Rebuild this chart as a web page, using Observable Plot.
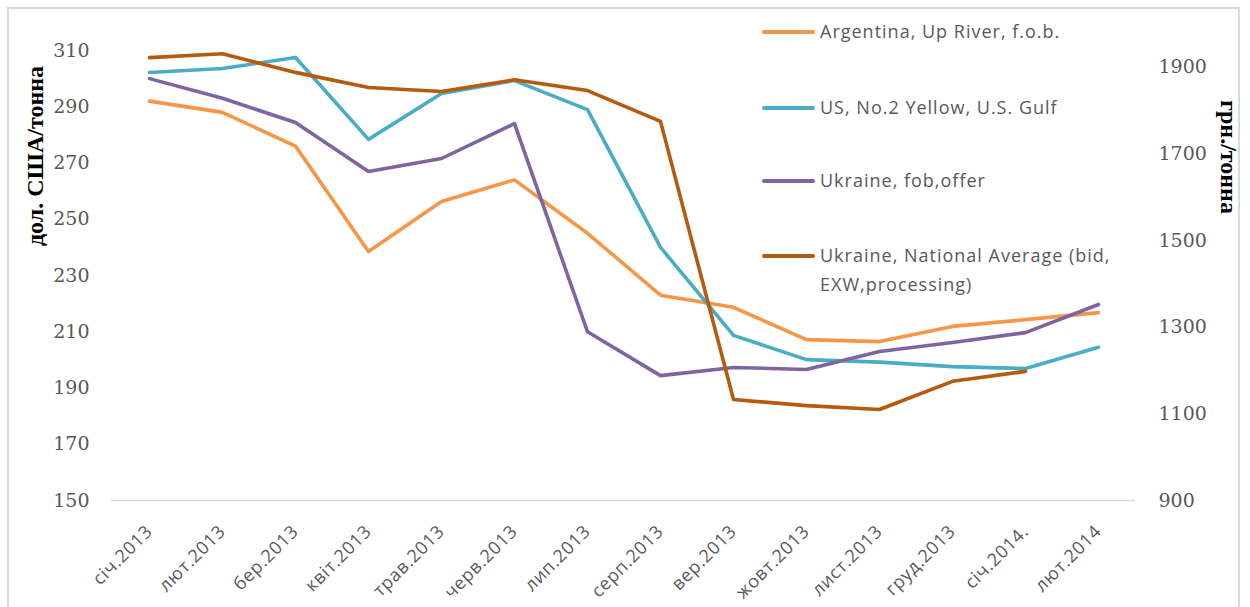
<!DOCTYPE html>
<html><head><meta charset="utf-8">
<script src="https://cdn.jsdelivr.net/npm/d3@7"></script>
<script src="https://cdn.jsdelivr.net/npm/@observablehq/plot@0.6"></script>
<style>
body{margin:0;background:#fff;}
#wrap{position:relative;width:1250px;height:607px;overflow:hidden;}
#border{position:absolute;left:7px;top:7px;width:1233px;height:620px;border:2px solid #dadada;box-sizing:border-box;}
.lg{position:absolute;font-family:"Open Sans",sans-serif;font-size:18px;letter-spacing:1px;color:#595959;line-height:29px;white-space:nowrap;}
.sw{position:absolute;width:53px;height:4px;border-radius:2px;}
.ttl{position:absolute;font-family:"Liberation Serif",serif;font-weight:bold;font-size:24px;color:#000;white-space:nowrap;}
svg g[aria-label="x-axis tick label"] text{letter-spacing:0.7px;}
</style></head>
<body><div id="wrap"><div id="border"></div></div>
<script>
const months = ["січ.2013","лют.2013","бер.2013","квіт.2013","трав.2013","черв.2013","лип.2013","серп.2013","вер.2013","жовт.2013","лист.2013","груд.2013","січ.2014.","лют.2014"];
const seriesNames = ["Argentina, Up River, f.o.b.","US, No.2 Yellow, U.S. Gulf","Ukraine, fob,offer","Ukraine, National Average (bid, EXW,processing)"];
const colors = ["#F79646","#4BACC6","#8064A2","#B65A10"];
const argentina = [292,288,276,238.5,256.3,264,245,223,218.7,207.2,206.5,211.9,214.3,216.8];
const usGulf    = [302.2,303.6,307.5,278.4,294.7,299.3,289,240,208.7,200.1,199.2,197.6,196.9,204.5];
const ukrFob    = [300,293,284.4,267,271.6,284,210,194.4,197.3,196.6,203,206.2,209.7,219.7];
const ukrNatAvg = [1922,1931,1888,1853,1844,1871,1846,1775,1133,1119,1110,1175,1198,null]; // грн./тонна (right axis)
const leftTicks = [150,170,190,210,230,250,270,290,310];
const rightTicks = [900,1100,1300,1500,1700,1900];
const leftDomain = [150,310];
const rightDomain = [900,1938.5];

const toLeft = v => leftDomain[0] + (v - rightDomain[0]) * (leftDomain[1]-leftDomain[0])/(rightDomain[1]-rightDomain[0]);
const fromLeft = l => rightDomain[0] + (l - leftDomain[0]) * (rightDomain[1]-rightDomain[0])/(leftDomain[1]-leftDomain[0]);

const leftSeries = [argentina, usGulf, ukrFob];
const data = [];
leftSeries.forEach((arr,si)=>arr.forEach((v,i)=>data.push({s:seriesNames[si], m:months[i], v})));
ukrNatAvg.forEach((v,i)=>{ if(v!=null) data.push({s:seriesNames[3], m:months[i], v:toLeft(v)}); });

const chart = Plot.plot({
  width:1250, height:607,
  marginLeft:111, marginRight:115, marginTop:50, marginBottom:107,
  x:{type:"point", domain:months, padding:0.5},
  y:{domain:leftDomain},
  color:{domain:seriesNames, range:colors},
  style:{fontFamily:"'Open Sans',sans-serif", background:"transparent", overflow:"visible"},
  marks:[
    Plot.ruleY([leftDomain[0]],{stroke:"#d9d9d9", strokeWidth:1.5}),
    Plot.axisY(leftTicks,{anchor:"left", tickSize:0, tickPadding:22, label:null, fontFamily:"DejaVu Serif", fontSize:19, fill:"#595959"}),
    Plot.axisY(rightTicks.map(toLeft),{anchor:"right", tickSize:0, tickPadding:23, label:null, tickFormat:d=>String(Math.round(fromLeft(d))), fontFamily:"DejaVu Serif", fontSize:19, fill:"#595959"}),
    Plot.axisX({anchor:"bottom", tickSize:0, tickPadding:28, tickRotate:-45, label:null, fontFamily:"'Open Sans',sans-serif", fontSize:18, fill:"#595959"}),
    Plot.line(data,{x:"m", y:"v", z:"s", stroke:"s", strokeWidth:3.6, strokeLinejoin:"round", strokeLinecap:"round"})
  ]
});
const wrap = document.getElementById("wrap");
chart.style.position="absolute"; chart.style.left="0"; chart.style.top="0";
wrap.appendChild(chart);

// legend
const legendY = [32,108,181,256];
seriesNames.forEach((n,i)=>{
  const sw=document.createElement("div"); sw.className="sw";
  sw.style.left="762px"; sw.style.top=(legendY[i]-2)+"px"; sw.style.background=colors[i];
  wrap.appendChild(sw);
  const t=document.createElement("div"); t.className="lg";
  t.style.left="820px"; t.style.top=(legendY[i]-15)+"px";
  t.textContent=n;
  if(i===3){ t.innerHTML="Ukraine, National Average (bid,<br>EXW,processing)"; }
  wrap.appendChild(t);
});
// axis titles
const lt=document.createElement("div"); lt.className="ttl"; lt.textContent="дол. США/тонна";
lt.style.left="35px"; lt.style.top="156px"; lt.style.transform="translate(-50%,-50%) rotate(-90deg)";
wrap.appendChild(lt);
const rt=document.createElement("div"); rt.className="ttl"; rt.textContent="грн./тонна";
rt.style.left="1228px"; rt.style.top="157px"; rt.style.transform="translate(-50%,-50%) rotate(90deg)";
wrap.appendChild(rt);
</script></body></html>
